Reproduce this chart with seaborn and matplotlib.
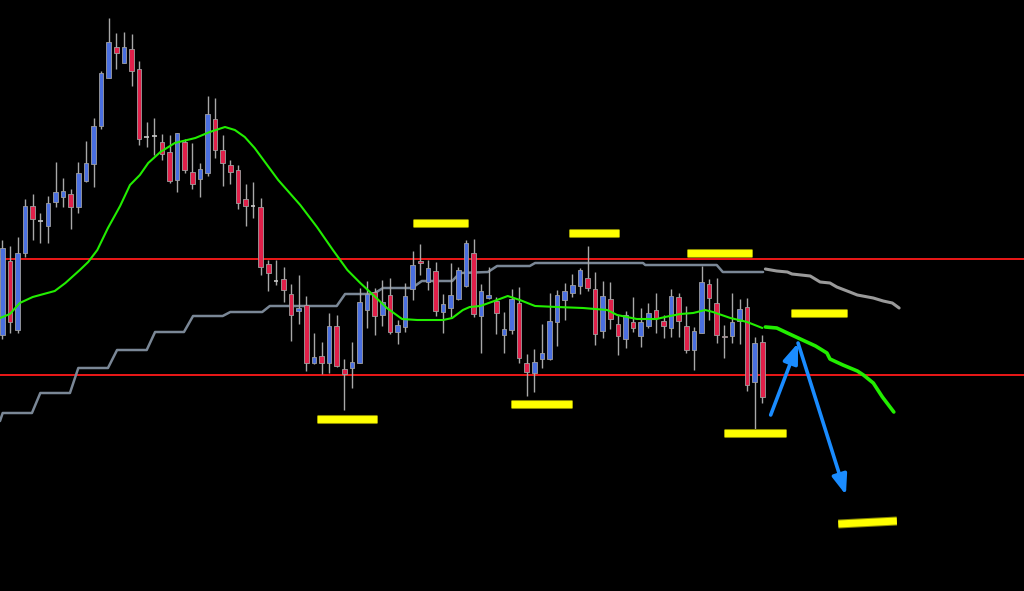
import numpy as np
import pandas as pd
import matplotlib
matplotlib.use("Agg")
import matplotlib.pyplot as plt
import seaborn as sns
import matplotlib.patheffects as pe

# ---- candle data (bar number, price units) ----
opens = [256,330,261,338,385,370,365,389,394,397,384,410,427,465,513,544,528,542,522,454,
         455,449,439,411,449,419,412,418,472,441,426,421,392,385,384,327,310,312,297,280,
         286,228,235,228,265,222,223,228,281,299,276,296,259,264,302,330,309,320,279,283,
         292,305,338,275,293,290,256,261,288,228,218,232,232,269,291,298,305,313,302,260,
         292,267,252,269,255,265,281,270,263,294,265,241,258,307,288,255,255,270,284,209,249]
highs = [351,345,354,392,397,378,395,429,413,402,429,450,473,520,573,558,559,557,530,469,
         473,457,456,458,452,448,428,495,493,456,431,426,407,409,393,331,331,324,307,316,
         295,258,249,278,276,232,249,303,310,303,311,313,271,308,340,347,331,329,297,328,
         324,351,352,307,324,294,279,302,304,237,242,267,298,301,308,317,323,345,319,310,
         309,276,280,294,283,288,298,276,302,298,285,264,325,312,313,266,298,292,293,254,256]
lows = [252,258,258,334,351,348,348,384,384,362,378,409,404,462,513,522,528,505,446,444,
        436,431,408,399,418,402,394,415,433,405,407,382,365,373,316,300,306,289,250,267,
        220,227,217,218,224,181,203,228,263,256,265,257,247,259,291,316,301,275,258,274,
        291,304,274,238,292,257,238,257,228,195,199,223,231,245,271,294,297,300,246,253,
        262,236,243,259,244,263,258,253,254,254,238,221,258,271,248,233,248,247,200,160,188]
closes = [343,269,338,385,372,370,388,399,400,384,418,428,465,518,549,538,544,520,452,454,
          455,437,410,458,421,407,422,477,441,428,419,388,385,385,324,318,310,301,276,283,
          228,234,228,265,225,217,229,289,297,275,289,259,266,295,326,328,323,280,287,296,
          321,348,277,300,296,278,262,292,233,219,229,238,270,296,300,306,321,303,257,295,
          272,255,276,263,269,278,273,265,295,270,241,260,309,293,256,254,269,282,206,248,194]
bars = list(range(len(opens)))

# moving average (green)
ma_x = [-0.3,1.0,2.3,4.0,6.9,8.3,10.2,11.3,12.5,13.9,15.5,16.8,18.1,19.2,20.8,22.7,25.4,27.3,29.3,
        30.6,31.9,33.2,36.3,39.2,41.4,43.5,45.4,47.1,48.8,50.6,52.6,54.6,58.0,59.2,60.6,61.5,62.9,
        65.1,66.5,68.1,70.1,73.0,76.4,79.6,80.9,83.5,86.1,87.2,89.2,90.9,92.5,93.5,95.8,98.0,100.0]
ma_y = [273,277,288,294,300,308,321,329,341,363,385,406,416,428,439,448,453,459,464,
        461,454,443,411,386,364,341,321,308,296,283,272,271,271,273,281,284,285,
        291,295,291,285,284,283,281,276,272,272,274,277,278,281,279,273,269,263]
# projected MA
maf_x = [100.4,101.9,103.3,105.0,107.0,108.5,108.9,110.6,112.5,113.3,114.6,115.8,117.3]
maf_y = [264,263,258,252,245,238,232,226,220,216,208,194,179]

# step line (slate gray)
st_x = [-0.3,0.05,3.9,5.0,8.9,10.0,13.9,15.1,19.0,20.1,23.9,25.1,29.0,30.0,34.2,35.2,44.0,45.1,
        48.8,50.1,53.9,55.2,59.2,60.2,63.9,65.1,69.4,70.1,84.3,84.6,94.0,94.8,100.1]
st_y = [170,178,178,198,198,223,223,241,241,259,259,275,275,279,279,285,285,297,
        297,303,303,310,310,318,319,325,325,328,328,326,326,319,319]
# projected step line (light gray)
stf_x = [100.4,101.9,103.3,103.9,106.3,107.6,108.9,109.8,111.5,112.5,114.6,115.9,117.1,118.0]
stf_y = [322,320,319,317,315,309,308,304,299,296,293,290,288,283]

# horizontal levels
levels = [332, 216]
# yellow markers: (x start, x end, y start, y end)
marks_x0 = [54.0, 41.4, 74.6, 66.9, 90.1, 103.8, 95.0, 110.0]
marks_x1 = [61.3, 49.3, 81.1, 74.9, 98.6, 111.1, 103.1, 117.7]
marks_y0 = [368, 172, 358, 187, 338, 278, 158, 67]
marks_y1 = [368, 172, 358, 187, 338, 278, 158, 70]
# arrows: (start x, start y, end x, end y)
arrows = [(101.1, 176, 104.7, 248), (104.7, 248, 111.0, 96)]

sns.set_style("dark", {"axes.facecolor": "black", "figure.facecolor": "black"})
fig = plt.figure(figsize=(10.24, 5.91), dpi=100)
ax = fig.add_axes([0, 0, 1, 1])
ax.set_facecolor("black")

df = pd.DataFrame({"bar": bars, "open": opens, "high": highs, "low": lows, "close": closes})

# levels
for lv in levels:
    ax.axhline(lv, color="#ff1a1a", lw=1.3, zorder=1)

# step line
sns.lineplot(x=st_x, y=st_y, ax=ax, color="#7a8796", lw=1.8, sort=False, estimator=None, zorder=2)
sns.lineplot(x=stf_x, y=stf_y, ax=ax, color="#9a9a9a", lw=2.2, sort=False, estimator=None, zorder=2)

# candles
ax.vlines(df["bar"], df["low"], df["high"], color="#a8a8a8", lw=1.0, zorder=3)
w = 0.6
for _, r in df.iterrows():
    o, c = r["open"], r["close"]
    if c > o:
        col = "#4a6fe0"
    elif c < o:
        col = "#e0204a"
    else:
        ax.hlines(o, r["bar"] - w / 2, r["bar"] + w / 2, color="#c8c8c8", lw=1.2, zorder=4)
        continue
    ax.bar(r["bar"], abs(c - o), bottom=min(o, c), width=w, color=col,
           edgecolor="#a0a0a0", linewidth=0.6, zorder=4)

# MA lines
sns.lineplot(x=ma_x, y=ma_y, ax=ax, color="#22ee00", lw=1.5, sort=False, estimator=None, zorder=5)
sns.lineplot(x=maf_x, y=maf_y, ax=ax, color="#22ee00", lw=2.6, sort=False, estimator=None, zorder=5)

# yellow markers
for x0, x1, y0, y1 in zip(marks_x0, marks_x1, marks_y0, marks_y1):
    ax.plot([x0, x1], [y0, y1], color="#ffff00", lw=5, solid_capstyle="butt", zorder=6,
            path_effects=[pe.Stroke(linewidth=6.5, foreground="#8a8a00"), pe.Normal()])

# arrows
for sx, sy, ex, ey in arrows:
    ax.annotate("", xy=(ex, ey), xytext=(sx, sy),
                arrowprops=dict(arrowstyle="-|>,head_length=1.2,head_width=0.45",
                                color="#1a8cff", lw=2.6, shrinkA=0, shrinkB=0), zorder=7)

ax.set_xlim(-0.303, 134.43)
ax.set_ylim(0, 591)
ax.axis("off")
ax.get_legend() and ax.get_legend().remove()
fig.savefig("out.png", dpi=100, facecolor="black")
